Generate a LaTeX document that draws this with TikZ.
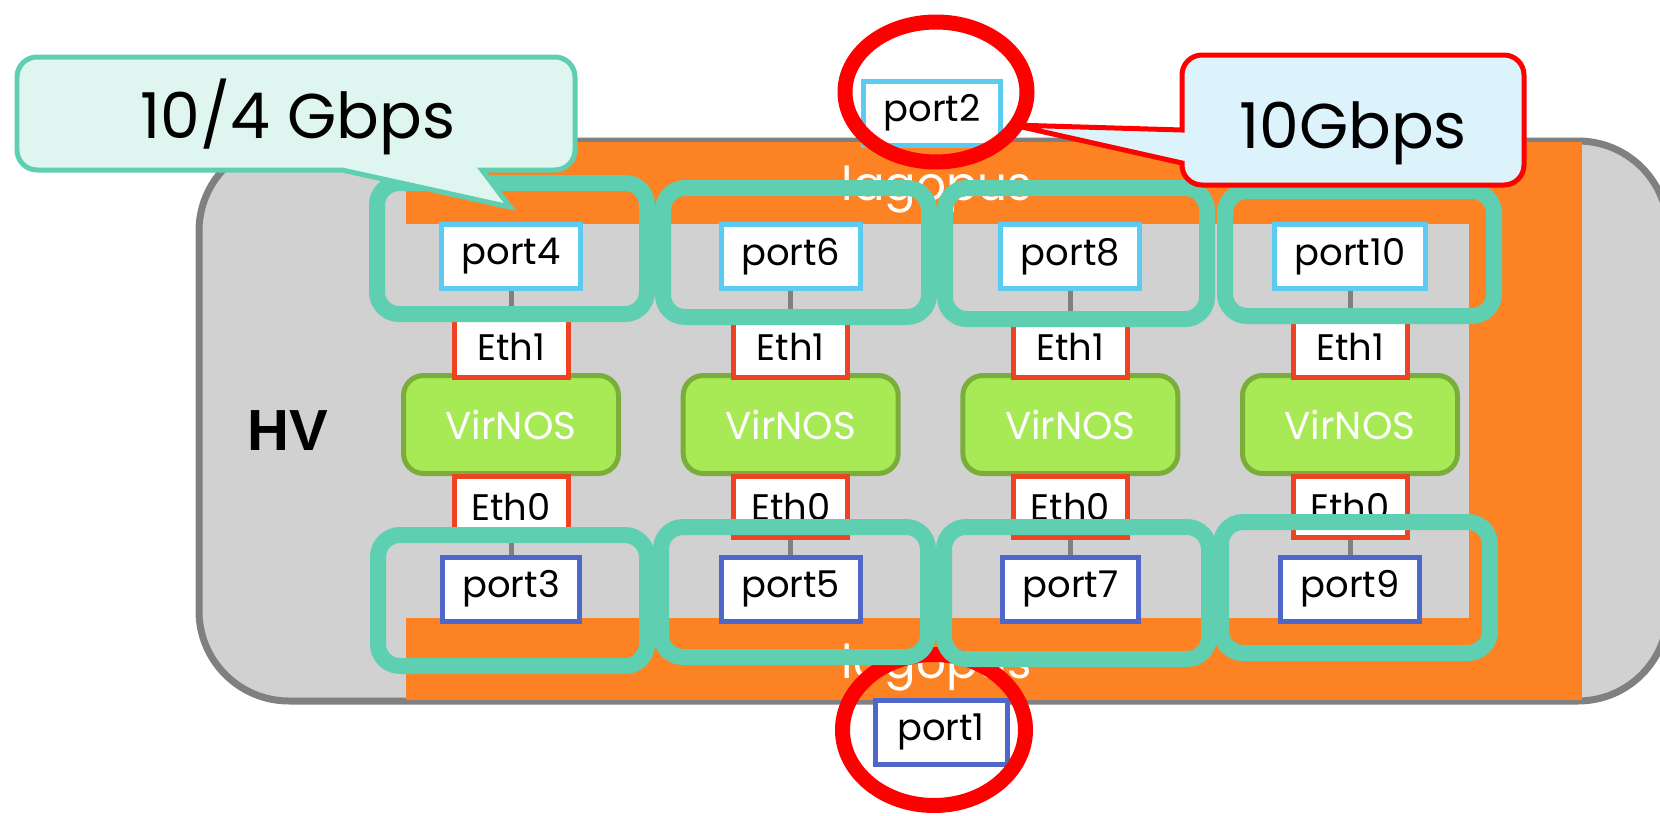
\documentclass[tikz,border=0pt]{standalone}
\usepackage{fontspec}
\setmainfont{Poppins}
\newfontfamily\hvfont{Liberation Sans}
\usetikzlibrary{positioning}

\definecolor{grpteal}{HTML}{5ECFB1}
\definecolor{mint}{HTML}{DFF5EF}
\definecolor{iceblue}{HTML}{DDF3FB}
\definecolor{skyb}{HTML}{5BCBF2}
\definecolor{portblue}{HTML}{4F67C9}
\definecolor{ethred}{HTML}{EE4323}
\definecolor{vgreen}{HTML}{A8EA55}
\definecolor{vgreendark}{HTML}{7BAD3B}
\definecolor{wiregray}{HTML}{808080}
\definecolor{hvfill}{HTML}{D1D1D1}
\definecolor{lagorange}{HTML}{FD8223}
\definecolor{ringred}{HTML}{FF0000}

\begin{document}
\begin{tikzpicture}[x=0.1mm,y=-0.1mm,
  porttop/.style={draw=skyb,line width=0.5mm,fill=white,minimum width=13.2mm,
    minimum height=6.4mm,inner xsep=2mm,font=\fontsize{10.5}{12}\selectfont},
  portbot/.style={porttop,draw=portblue},
  ethbox/.style={draw=ethred,line width=0.5mm,fill=white,minimum width=11.4mm,
    minimum height=6.1mm,font=\fontsize{10.5}{12}\selectfont},
  vnos/.style={draw=vgreendark,fill=vgreen,line width=0.5mm,rounded corners=2mm,
    minimum width=21.5mm,minimum height=9.8mm,text=white,font=\fontsize{11}{13}\selectfont},
  grp/.style={draw=grpteal,line width=1.6mm,rounded corners=2.2mm},
  ring/.style={draw=ringred,line width=1.5mm},
  wire/.style={draw=wiregray,line width=0.5mm},
  lago/.style={text=white,anchor=base,font=\fontsize{13.3}{15}\selectfont}]

\useasboundingbox (0,0) rectangle (1660,816);
\fill[white] (0,0) rectangle (1660,816);

% HV and lagopus
\draw[draw=wiregray,fill=hvfill,line width=0.7mm,rounded corners=9mm] (199,141) rectangle (1668,701);
\fill[lagorange] (406,142) rectangle (1582,700);
\fill[hvfill] (406,224) rectangle (1469,618);
\node[lago] (lagotop) at (937,200) {lagopus};
\node[lago] (lagobot) at (937,678) {lagopus};
\node[anchor=base,font=\hvfont\bfseries\fontsize{16.5}{18}\selectfont] (hv) at (288,450) {HV};

\node[porttop] (port2) at (932,113) {port2};
\node[portbot] (port1) at (941,732) {port1};
\draw[ring] (936,92) ellipse [x radius=91, y radius=70];
\draw[ring] (934,730) ellipse [x radius=91.5, y radius=75.5];

\foreach \c/\x/\t/\b in {1/511/4/3, 2/790.7/6/5, 3/1070.4/8/7, 4/1350/10/9}{
  \node[vnos] (vnos\c) at (\x,424.5) {VirNOS};
  \node[ethbox] (ethA\c) at (\x,347) {Eth1};
  \node[ethbox] (ethB\c) at (\x,506.5) {Eth0};
  \node[porttop] (port\t) at (\x,256.5) {port\t};
  \node[portbot] (port\b) at (\x,589) {port\b};
  \draw[wire] (port\t) -- (ethA\c);
  \draw[wire] (ethB\c) -- (port\b);
}

\foreach \xa/\ya/\xb/\yb in {377/183/647/314, 663/188/929/317, 945/188/1207/319, 1225/191/1494/316,
  378/535/647/666, 661/527/928/657, 944/527/1209/659, 1221/522/1490/653}
  \draw[grp] (\xa,\ya) rectangle (\xb,\yb);

% callouts
\coordinate (tip4) at (510,207);
\coordinate (tip2) at (1013,125);
\draw[draw=grpteal,fill=mint,line width=0.5mm,rounded corners=2mm]
  (17,57) -- (575,57) -- (575,170) [sharp corners] -- (482,170) -- (tip4) -- (342,170)
  [rounded corners=2mm] -- (17,170) -- cycle;
\node[anchor=base,font=\fontsize{18}{20}\selectfont] (bw4) at (298,138) {10/4 Gbps};

\draw[draw=ringred,fill=iceblue,line width=0.5mm,rounded corners=2mm]
  (1182,55) -- (1524,55) -- (1524,185) -- (1182,185) [sharp corners] -- (1182,163) -- (tip2)
  -- (1182,130) [rounded corners=2mm] -- cycle;
\node[anchor=base,font=\fontsize{18}{20}\selectfont] (bw10) at (1353,148) {10Gbps};

\end{tikzpicture}
\end{document}
